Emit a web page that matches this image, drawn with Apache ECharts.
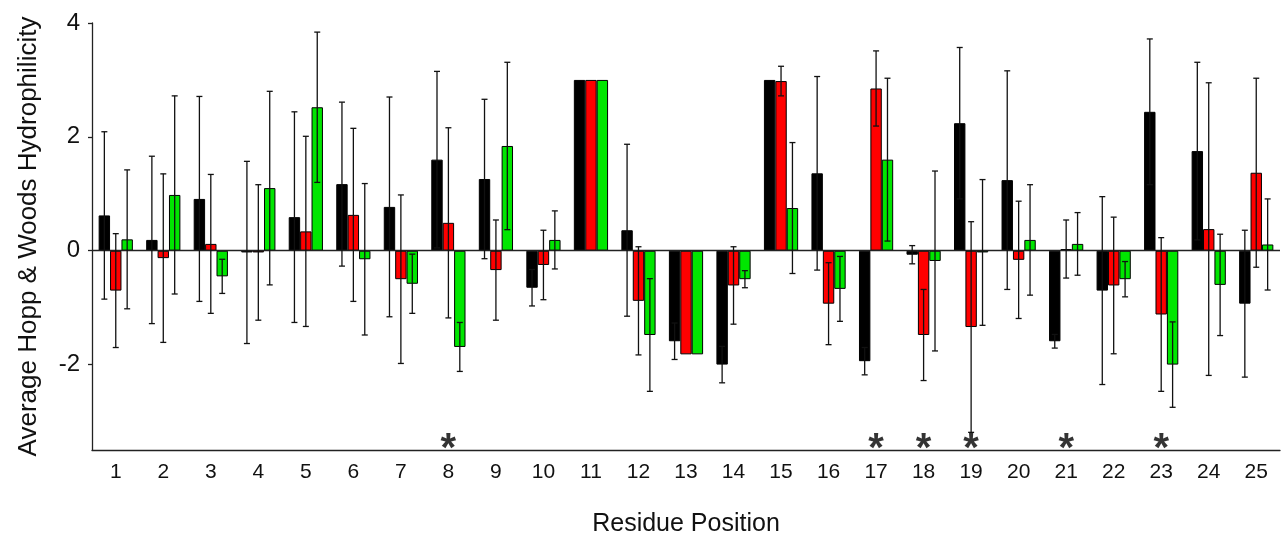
<!DOCTYPE html>
<html><head><meta charset="utf-8">
<script src="https://cdn.jsdelivr.net/npm/echarts@6/dist/echarts.min.js"></script>
<style>html,body{margin:0;padding:0;background:#fff}#c{width:1283px;height:536px}</style>
</head><body><div id="c"></div>
<script>
const categories = ['1','2','3','4','5','6','7','8','9','10','11','12','13','14','15','16','17','18','19','20','21','22','23','24','25'];
const blackVals = [0.62,0.19,0.91,-0.03,0.59,1.17,0.77,1.6,1.26,-0.65,3.0,0.36,-1.59,-2.0,3.0,1.36,-1.94,-0.07,2.24,1.24,-1.59,-0.7,2.44,1.75,-0.93];
const blackErr  = [1.47,1.47,1.8,1.6,1.85,1.44,1.93,1.55,1.4,0.32,0,1.51,0.32,0.32,0,1.7,0.24,0.16,1.33,1.92,0.12,1.65,1.28,1.56,1.29];
const redVals   = [-0.7,-0.13,0.12,-0.03,0.34,0.63,-0.5,0.49,-0.34,-0.25,3.0,-0.88,-1.82,-0.61,2.98,-0.93,2.85,-1.48,-1.34,-0.16,0.03,-0.61,-1.12,0.38,1.37];
const redErr    = [1.0,1.48,1.22,1.19,1.67,1.52,1.48,1.67,0.88,0.61,0,0.95,0,0.68,0.26,0.72,0.66,0.8,1.85,1.03,0.51,1.2,1.35,2.57,1.66];
const greenVals = [0.2,0.98,-0.45,1.1,2.52,-0.15,-0.58,-1.69,1.84,0.19,3.0,-1.48,-1.82,-0.5,0.75,-0.67,1.6,-0.18,-0.03,0.19,0.12,-0.5,-2.0,-0.6,0.11];
const greenErr  = [1.22,1.74,0.3,1.7,1.32,1.33,0.52,0.43,1.47,0.51,0,0.99,0,0.15,1.15,0.57,1.43,1.58,1.28,0.97,0.55,0.31,0.75,0.89,0.8];
const starCats = ['8','17','18','19','21','23'];
const yTicks = [-2, 0, 2, 4];

const colors = ['#000000', '#ff0000', '#00e600'];
const CAT_GAP = 0.28;

function errSeries(vals, errs, idx) {
  return {
    type: 'custom', z: 5,
    data: categories.map((c, i) => [i, vals[i], errs[i]]),
    encode: { x: 0, y: 1 },
    renderItem: function (params, api) {
      const err = api.value(2);
      if (!err) return null;
      const v = api.value(1);
      const band = api.size([1, 0])[0];
      const bw = band * (1 - CAT_GAP) / 3;
      const cx = api.coord([api.value(0), v])[0] + (idx - 1) * bw;
      const yT = api.coord([api.value(0), v + err])[1];
      const yB = api.coord([api.value(0), v - err])[1];
      const st = { stroke: '#111', lineWidth: 1.3 };
      return { type: 'group', children: [
        { type: 'line', shape: { x1: cx, y1: yT, x2: cx, y2: yB }, style: st },
        { type: 'line', shape: { x1: cx - 3, y1: yT, x2: cx + 3, y2: yT }, style: st },
        { type: 'line', shape: { x1: cx - 3, y1: yB, x2: cx + 3, y2: yB }, style: st }
      ]};
    }
  };
}

function barSeries(vals, idx) {
  return {
    type: 'bar', data: vals, barGap: '0%', barCategoryGap: (CAT_GAP * 100) + '%',
    itemStyle: { color: colors[idx], borderColor: '#000', borderWidth: 1 },
    z: 2
  };
}

const chart = echarts.init(document.getElementById('c'));
const series = [barSeries(blackVals, 0), barSeries(redVals, 1), barSeries(greenVals, 2)];
series[0].markLine = { silent: true, symbol: 'none', label: { show: false },
  lineStyle: { color: '#222', width: 1.3, type: 'solid' }, data: [{ yAxis: 0 }] };
series.push(errSeries(blackVals, blackErr, 0), errSeries(redVals, redErr, 1), errSeries(greenVals, greenErr, 2));
series.push({
  type: 'scatter', symbolSize: 0, z: 6,
  data: starCats.map(c => [c, -3.5]),
  label: { show: true, position: 'inside', formatter: '*', color: '#000', fontSize: 40, fontWeight: 'bold', fontFamily: 'Liberation Sans' }
});

chart.setOption({
  animation: false,
  grid: { left: 92, right: 3, top: 23, bottom: 86, outerBoundsMode: 'none', containLabel: false },
  xAxis: {
    type: 'category', data: categories,
    name: 'Residue Position', nameLocation: 'middle', nameGap: 62,
    nameTextStyle: { fontSize: 25, color: '#111', fontFamily: 'Liberation Sans' },
    axisLine: { show: true, onZero: false, lineStyle: { color: '#222', width: 1.3 } },
    axisTick: { alignWithLabel: true, length: 6, lineStyle: { color: '#222', width: 1.3 } },
    axisLabel: { fontSize: 21, color: '#111', margin: 12, fontFamily: 'Liberation Sans' },
    splitLine: { show: false }
  },
  yAxis: {
    type: 'value', min: -3.5, max: 4,
    name: 'Average Hopp & Woods Hydrophilicity', nameLocation: 'middle', nameGap: 50, nameRotate: 90,
    nameTextStyle: { fontSize: 26, color: '#111', fontFamily: 'Liberation Sans' },
    axisLine: { show: true, lineStyle: { color: '#222', width: 1.3 } },
    axisTick: { show: true, length: 4, customValues: yTicks, lineStyle: { color: '#222', width: 1.3 } },
    axisLabel: { fontSize: 24, color: '#111', margin: 12, customValues: yTicks, fontFamily: 'Liberation Sans' },
    splitLine: { show: false }
  },
  series: series
});
</script></body></html>
